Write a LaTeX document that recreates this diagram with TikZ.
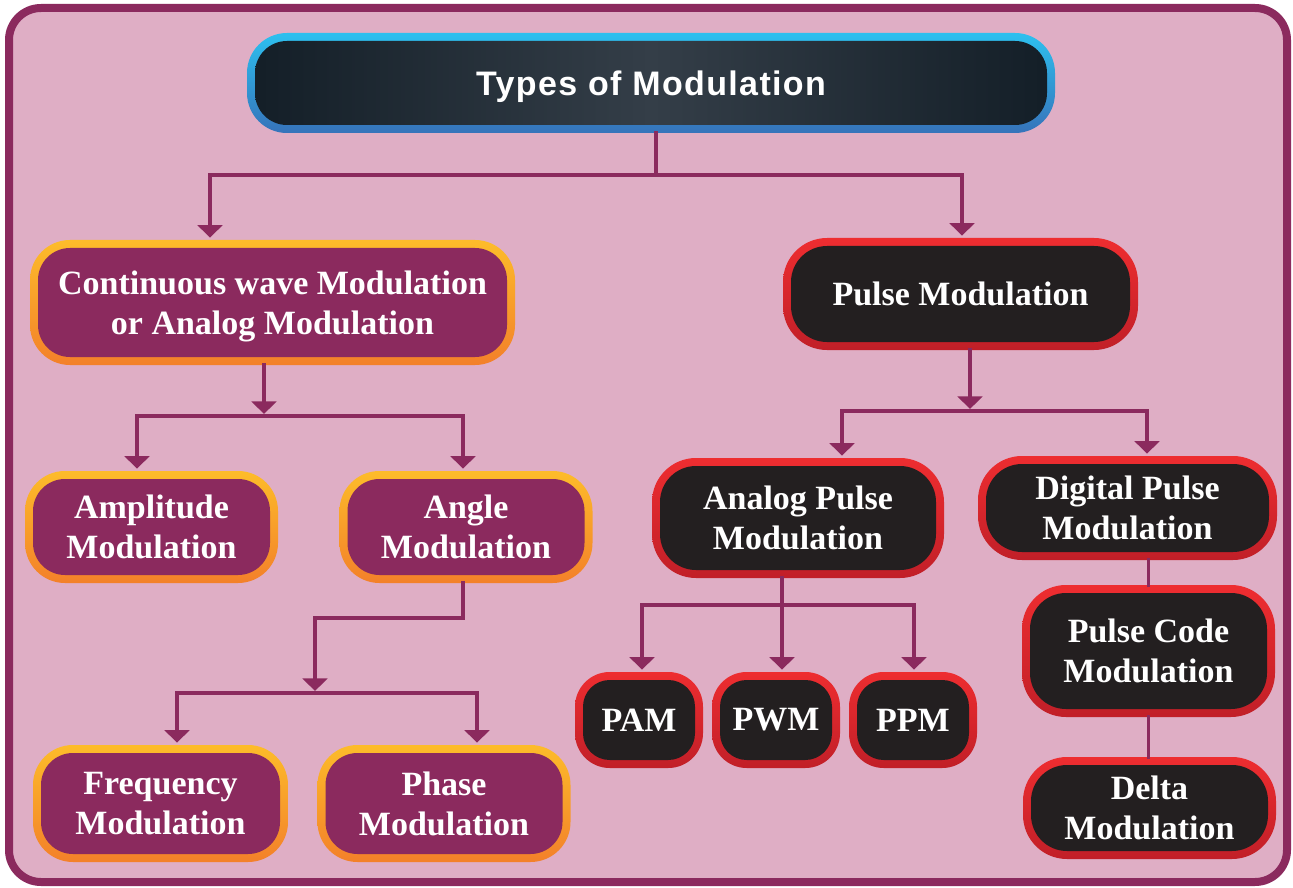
\documentclass[tikz,border=0pt]{standalone}
\usepackage{fontspec}
\setmainfont{Liberation Serif}
\newfontfamily\titlefont[LetterSpace=4]{Liberation Sans}
\usetikzlibrary{arrows.meta}

\definecolor{pagepink}{HTML}{DFAEC5}
\definecolor{plum}{HTML}{8B2A5E}
\definecolor{ambertop}{HTML}{FDBC2A}
\definecolor{amberbot}{HTML}{F3802A}
\definecolor{redtop}{HTML}{EE2D30}
\definecolor{redbot}{HTML}{C11F28}
\definecolor{inkfill}{HTML}{231F20}
\definecolor{bluetop}{HTML}{2DC0EF}
\definecolor{bluebot}{HTML}{3673BA}
\definecolor{slateedge}{HTML}{131E27}
\definecolor{slatemid}{HTML}{343E48}

% text line whose descenders should not count for vertical centring
\newcommand\nodescent[1]{\raisebox{0pt}[\height][0pt]{#1}}

\tikzset{
  every node/.style={inner sep=0pt, align=center, text=white,
    font=\fontsize{25.5pt}{30pt}\selectfont\bfseries},
  wh/.style 2 args={minimum width={#1*0.75pt}, minimum height={#2*0.75pt}},
  % outer shaded ring + inset filled face
  cwbox/.style={rectangle, rounded corners=#1pt, top color=ambertop, bottom color=amberbot,
    path picture={\pgfmathsetmacro\innerr{#1-6}
      \fill[plum, rounded corners=\innerr pt]
        ([shift={(6pt,-6pt)}]path picture bounding box.north west) rectangle
        ([shift={(-6pt,6pt)}]path picture bounding box.south east);}},
  pbox/.style={rectangle, rounded corners=#1pt, top color=redtop, bottom color=redbot,
    path picture={\pgfmathsetmacro\innerr{#1-6}
      \fill[inkfill, rounded corners=\innerr pt]
        ([shift={(6pt,-6pt)}]path picture bounding box.north west) rectangle
        ([shift={(-6pt,6pt)}]path picture bounding box.south east);}},
  titlebox/.style={rectangle, rounded corners=30pt, top color=bluetop, bottom color=bluebot,
    path picture={
      \shade[left color=slateedge, right color=slateedge, middle color=slatemid, rounded corners=24pt]
        ([shift={(6pt,-6pt)}]path picture bounding box.north west) rectangle
        ([shift={(-6pt,6pt)}]path picture bounding box.south east);}},
  wire/.style={draw=plum, line width=2.7pt, line cap=rect},
  arr/.style={wire, -{Triangle[length=9.5pt,width=18.5pt]}, shorten >=1.5pt},
}

\begin{document}
\begin{tikzpicture}[x=0.75pt, y=-0.75pt]
  \useasboundingbox (0,0) rectangle (1293,888);
  \fill[white] (0,0) rectangle (1293,888);
  % page frame
  \draw[draw=plum, line width=6pt, fill=pagepink, rounded corners=24pt] (9,8) rectangle (1287,882);

  % boxes
  \node[titlebox, wh={808}{100}] (title) at (651,83) {\titlefont\nodescent{Types of Modulation}};

  \node[cwbox=30, wh={485}{125}] (cw) at (272.5,302.5) {Continuous wave Modulation\\\nodescent{or Analog Modulation}};
  \node[pbox=33, wh={355}{112}] (pm) at (960.5,294) {Pulse Modulation};

  \node[cwbox=30, wh={253}{112}] (am) at (151.5,527) {Amplitude\\Modulation};
  \node[cwbox=30, wh={253}{112}] (ang) at (466,527) {Angle\\Modulation};
  \node[pbox=33, wh={292}{120}] (apm) at (798,518) {Analog Pulse\\Modulation};
  \node[pbox=33, wh={299}{104}] (dpm) at (1127.5,508) {Digital Pulse\\Modulation};

  \node[pbox=26, wh={128}{96}] (pam) at (639,720) {PAM};
  \node[pbox=26, wh={128}{96}] (pwm) at (776,720) {PWM};
  \node[pbox=26, wh={128}{96}] (ppm) at (913,720) {PPM};
  \node[pbox=33, wh={253}{132}] (pcm) at (1148.5,651) {Pulse Code\\Modulation};
  \node[pbox=33, wh={253}{102}] (dm) at (1149.5,808) {Delta\\Modulation};

  \node[cwbox=30, wh={255}{117}] (fm) at (160.5,803.5) {Frequency\\Modulation};
  \node[cwbox=30, wh={253}{117}] (phm) at (444,803.5) {Phase\\Modulation};

  % title -> two families
  \coordinate (t1) at (656,175);
  \coordinate (cwin) at (210,175);
  \coordinate (pmin) at (962,175);
  \draw[wire] (t1 |- title.south) -- (t1);
  \draw[wire] (cwin) -- (pmin);
  \draw[arr] (cwin) -- (cwin |- cw.north);
  \draw[arr] (pmin) -- (pmin |- pm.north);

  % continuous wave branch
  \coordinate (j2) at (264,416);
  \coordinate (amin) at (137,416);
  \coordinate (angin) at (463,416);
  \draw[arr] (j2 |- cw.south) -- (j2);
  \draw[wire] (amin) -- (angin);
  \draw[arr] (amin) -- (amin |- am.north);
  \draw[arr] (angin) -- (angin |- ang.north);

  % angle modulation branch
  \coordinate (k1) at (463,618);
  \coordinate (k2) at (315,618);
  \coordinate (j3) at (315,693);
  \coordinate (fmin) at (177,693);
  \coordinate (phin) at (477,693);
  \draw[arr] (k1 |- ang.south) -- (k1) -- (k2) -- (j3);
  \draw[wire] (fmin) -- (phin);
  \draw[arr] (fmin) -- (fmin |- fm.north);
  \draw[arr] (phin) -- (phin |- phm.north);

  % pulse branch
  \coordinate (j4) at (970,411);
  \coordinate (apmin) at (842,411);
  \coordinate (dpmin) at (1147,411);
  \draw[arr] (j4 |- pm.south) -- (j4);
  \draw[wire] (apmin) -- (dpmin);
  \draw[arr] (apmin) -- (apmin |- apm.north);
  \draw[arr] (dpmin) -- (dpmin |- dpm.north);

  % analog pulse branch
  \coordinate (j5) at (782,605);
  \coordinate (pamin) at (642,605);
  \coordinate (ppmin) at (914,605);
  \draw[wire] (j5 |- apm.south) -- (j5);
  \draw[wire] (pamin) -- (ppmin);
  \draw[arr] (pamin) -- (pamin |- pam.north);
  \draw[arr] (j5) -- (j5 |- pwm.north);
  \draw[arr] (ppmin) -- (ppmin |- ppm.north);

  % digital pulse chain
  \draw[wire] (pcm.north |- dpm.south) -- (pcm.north);
  \draw[wire] (pcm.south) -- (pcm.south |- dm.north);
\end{tikzpicture}
\end{document}
